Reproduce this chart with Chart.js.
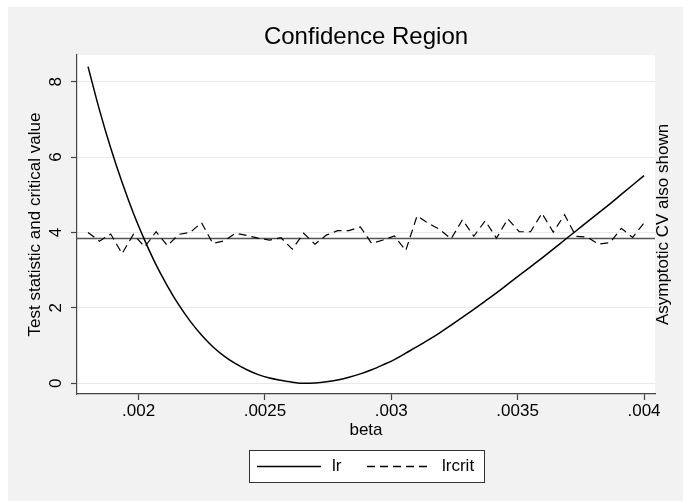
<!DOCTYPE html>
<html>
<head>
<meta charset="utf-8">
<title>Confidence Region</title>
<script src="https://cdn.jsdelivr.net/npm/chart.js@4.4.1/dist/chart.umd.min.js"></script>
<style>
  html, body { margin: 0; padding: 0; background: #fff; }
  #wrap { width: 683px; height: 501px; }
</style>
</head>
<body>
<div id="wrap"><canvas id="chart-cr" width="683" height="501"></canvas></div>
<script>
// beta grid the statistics were evaluated on (50 points, .0018 -> .004)
const betaGrid = [
  .0018, .0018449, .0018898, .0019347, .0019796, .0020245, .0020694, .0021143, .0021592, .0022041,
  .002249, .0022939, .0023388, .0023837, .0024286, .0024735, .0025184, .0025633, .0026082, .0026531,
  .002698, .0027429, .0027878, .0028327, .0028776, .0029224, .0029673, .0030122, .0030571, .003102,
  .0031469, .0031918, .0032367, .0032816, .0033265, .0033714, .0034163, .0034612, .0035061, .003551,
  .0035959, .0036408, .0036857, .0037306, .0037755, .0038204, .0038653, .0039102, .0039551, .004
];
// LR test statistic
const lr = [
  8.40, 7.26, 6.24, 5.33, 4.51, 3.79, 3.14, 2.58, 2.08, 1.65,
  1.28, 0.97, 0.72, 0.52, 0.36, 0.23, 0.14, 0.08, 0.03, 0.00,
  0.01, 0.04, 0.09, 0.16, 0.25, 0.36, 0.49, 0.63, 0.80, 0.97,
  1.15, 1.34, 1.54, 1.75, 1.96, 2.18, 2.40, 2.63, 2.86, 3.09,
  3.32, 3.56, 3.80, 4.04, 4.28, 4.52, 4.76, 5.01, 5.26, 5.51
];
// simulated critical value
const lrcrit = [
  4.00, 3.77, 3.96, 3.44, 3.95, 3.62, 4.02, 3.65, 3.95, 4.00,
  4.26, 3.71, 3.78, 3.98, 3.92, 3.85, 3.80, 3.86, 3.56, 3.98,
  3.69, 3.93, 4.05, 4.05, 4.15, 3.71, 3.80, 3.91, 3.52, 4.44,
  4.24, 4.08, 3.83, 4.34, 3.90, 4.31, 3.85, 4.36, 4.02, 4.02,
  4.51, 4.01, 4.47, 3.90, 3.88, 3.69, 3.73, 4.11, 3.87, 4.25
];
const asymptoticCV = 3.84;

const xTickVals   = [.002, .0025, .003, .0035, .004];
const xTickLabels = ['.002', '.0025', '.003', '.0035', '.004'];
const yTickVals   = [0, 2, 4, 6, 8];
const seriesNames = ['lr', 'lrcrit'];

const FONT = "'Liberation Sans', Arial, Helvetica, sans-serif";
const AXIS = '#444';
const GRID = '#e9e9e9';

Chart.defaults.font.family = FONT;
Chart.defaults.color = '#000';

const toXY = vals => betaGrid.map((b, i) => ({ x: b, y: vals[i] }));

// grey outer panel + white plot region
const backdrop = {
  id: 'backdrop',
  beforeDraw(chart) {
    const { ctx, chartArea: a } = chart;
    ctx.save();
    ctx.fillStyle = '#f2f2f2';
    ctx.fillRect(8, 7, chart.width - 8, chart.height - 7);
    ctx.fillStyle = '#fff';
    ctx.fillRect(a.left, a.top, a.right - a.left, a.bottom - a.top);
    ctx.restore();
  }
};

// horizontal line at the asymptotic critical value
const cvLine = {
  id: 'cvLine',
  beforeDatasetsDraw(chart) {
    const { ctx, chartArea: a, scales } = chart;
    const y = scales.y.getPixelForValue(asymptoticCV);
    ctx.save();
    ctx.strokeStyle = '#555';
    ctx.lineWidth = 1.5;
    ctx.beginPath();
    ctx.moveTo(a.left, y);
    ctx.lineTo(a.right, y);
    ctx.stroke();
    ctx.restore();
  }
};

// right-hand note + boxed legend below the x title
const extras = {
  id: 'extras',
  afterDraw(chart) {
    const { ctx, chartArea: a, scales } = chart;
    ctx.save();
    ctx.font = `17px ${FONT}`;
    ctx.fillStyle = '#000';
    ctx.textAlign = 'center';
    ctx.textBaseline = 'middle';
    ctx.translate(a.right + 8, (a.top + a.bottom) / 2);
    ctx.rotate(-Math.PI / 2);
    ctx.fillText('Asymptotic CV also shown', 0, 0);
    ctx.restore();

    const W = 235, H = 32;
    const L = Math.round((a.left + a.right) / 2 - W / 2) + 0.5;
    const T = Math.round(scales.x.bottom + 10) - 0.5;
    ctx.save();
    ctx.fillStyle = '#fff';
    ctx.fillRect(L, T, W, H);
    ctx.strokeStyle = '#333';
    ctx.lineWidth = 1;
    ctx.strokeRect(L, T, W, H);
    const items = [{ x: L + 7.5 }, { x: L + 117.5 }];
    ctx.font = `17px ${FONT}`;
    ctx.textBaseline = 'middle';
    ctx.textAlign = 'left';
    chart.data.datasets.forEach((ds, i) => {
      const x0 = items[i].x;
      ctx.strokeStyle = ds.borderColor;
      ctx.lineWidth = 1.4;
      ctx.setLineDash(ds.borderDash || []);
      ctx.beginPath();
      ctx.moveTo(x0, T + 16);
      ctx.lineTo(x0 + 64, T + 16);
      ctx.stroke();
      ctx.setLineDash([]);
      ctx.fillStyle = '#000';
      ctx.fillText(seriesNames[i], x0 + 75, T + 15.5);
    });
    ctx.restore();
  }
};

new Chart(document.getElementById('chart-cr'), {
  type: 'line',
  data: {
    datasets: [
      { label: seriesNames[0], data: toXY(lr), borderColor: '#000', borderWidth: 1.5,
        pointRadius: 0, fill: false, cubicInterpolationMode: 'monotone' },
      { label: seriesNames[1], data: toXY(lrcrit), borderColor: '#000', borderWidth: 1.2,
        borderDash: [8, 5], pointRadius: 0, fill: false, tension: 0 }
    ]
  },
  options: {
    responsive: false,
    animation: false,
    events: [],
    layout: { padding: { left: 0, right: 28, top: 0, bottom: 60 } },
    plugins: {
      legend: { display: false },
      tooltip: { enabled: false },
      title: {
        display: true, text: 'Confidence Region', fullSize: false,
        font: { size: 24, weight: 'normal' }, color: '#000',
        padding: { top: 22.6, bottom: 3.6 }
      }
    },
    scales: {
      x: {
        type: 'linear', min: .0017564, max: .0040435,
        afterBuildTicks: s => { s.ticks = xTickVals.map(v => ({ value: v })); },
        afterFit: s => { s.height = 47; },
        ticks: { font: { size: 17 }, color: '#000', padding: 1, autoSkip: false,
                 maxRotation: 0, callback: (v, i) => xTickLabels[i] },
        grid: { drawOnChartArea: false, drawTicks: true, tickLength: 6, tickColor: AXIS, tickWidth: 1.2 },
        border: { display: true, color: AXIS, width: 1.2 },
        title: { display: true, text: 'beta', font: { size: 17 }, color: '#000', padding: { top: 0, bottom: 0 } }
      },
      y: {
        type: 'linear', min: -0.284, max: 8.708,
        afterBuildTicks: s => { s.ticks = yTickVals.map(v => ({ value: v })); },
        afterFit: s => { s.width = 77; },
        ticks: { font: { size: 17 }, color: '#000', padding: 10, minRotation: 90, maxRotation: 90,
                 crossAlign: 'center', callback: v => String(v) },
        grid: { color: GRID, lineWidth: 1, drawTicks: true, tickLength: 6, tickColor: AXIS, tickWidth: 1.2 },
        border: { display: true, color: AXIS, width: 1.2 },
        title: { display: true, text: 'Test statistic and critical value', font: { size: 17 },
                 color: '#000', padding: { top: 25.6, bottom: 0 } }
      }
    }
  },
  plugins: [backdrop, cvLine, extras]
});
</script>
</body>
</html>
